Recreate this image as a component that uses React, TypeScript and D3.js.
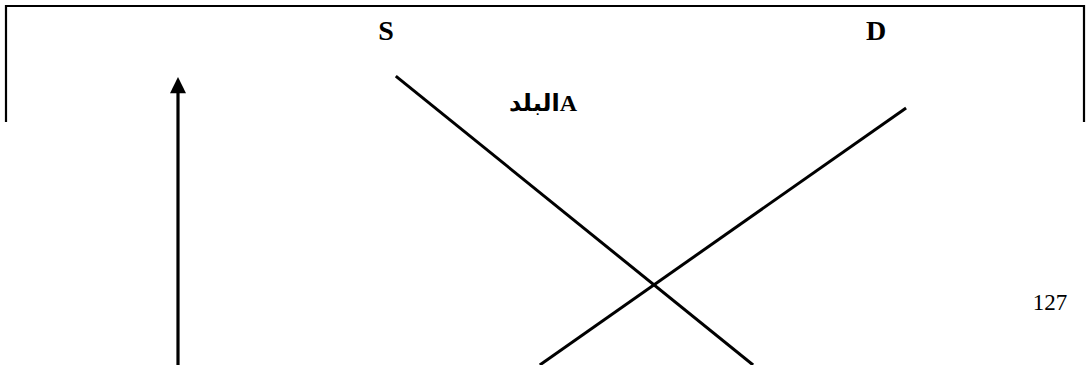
import React from "react";
import * as d3 from "d3";

const W = 1092;
const H = 365;

// Abstract quantity (x) / price (y) units
const supplyLabel = "S";
const demandLabel = "D";
const supplyPoints = [
  { q: 2.42, p: 9.63 },
  { q: 6.39, p: 0 },
];
const demandPoints = [
  { q: 4.02, p: 0 },
  { q: 8.09, p: 8.57 },
];
const countryLabel = "البلدA";
const pageNumber = "127";

export default function App() {
  const x = d3.scaleLinear().domain([0, 10]).range([178, 1078]);
  const y = d3.scaleLinear().domain([0, 10]).range([365, 65]);
  const line = d3
    .line<{ q: number; p: number }>()
    .x((d) => x(d.q))
    .y((d) => y(d.p));

  const axisX = x(0);
  const frame = `M6,122 V6 H1084 V122`;

  return (
    <div style={{ position: "absolute", left: 0, top: 0 }}>
      <svg width={W} height={H} style={{ display: "block", background: "#fff" }}>
        <rect x={0} y={0} width={W} height={H} fill="#fff" />
        <path d={frame} fill="none" stroke="#000" strokeWidth={2.2} />
        {/* vertical axis arrow */}
        <line x1={axisX} x2={axisX} y1={H + 2} y2={y(9.1)} stroke="#000" strokeWidth={3.2} />
        <path
          d={`M${axisX},${y(9.6)} L${axisX - 8},${y(9.06)} L${axisX + 8},${y(9.06)} Z`}
          fill="#000"
        />
        <path d={line(supplyPoints) || ""} fill="none" stroke="#000" strokeWidth={3} />
        <path d={line(demandPoints) || ""} fill="none" stroke="#000" strokeWidth={3} />
        <text
          x={386}
          y={40}
          textAnchor="middle"
          fontFamily="'Liberation Serif', 'DejaVu Serif', serif"
          fontWeight="bold"
          fontSize={28}
        >
          {supplyLabel}
        </text>
        <text
          x={876}
          y={40}
          textAnchor="middle"
          fontFamily="'Liberation Serif', 'DejaVu Serif', serif"
          fontWeight="bold"
          fontSize={28}
        >
          {demandLabel}
        </text>
        <text
          x={543}
          y={111}
          textAnchor="middle"
          direction="ltr"
          fontFamily="'Liberation Serif', 'DejaVu Sans', serif"
          fontWeight="bold"
          fontSize={24}
        >
          {countryLabel}
        </text>
        <text
          x={1050}
          y={310}
          textAnchor="middle"
          fontFamily="'Liberation Serif', serif"
          fontSize={23}
        >
          {pageNumber}
        </text>
      </svg>
    </div>
  );
}
